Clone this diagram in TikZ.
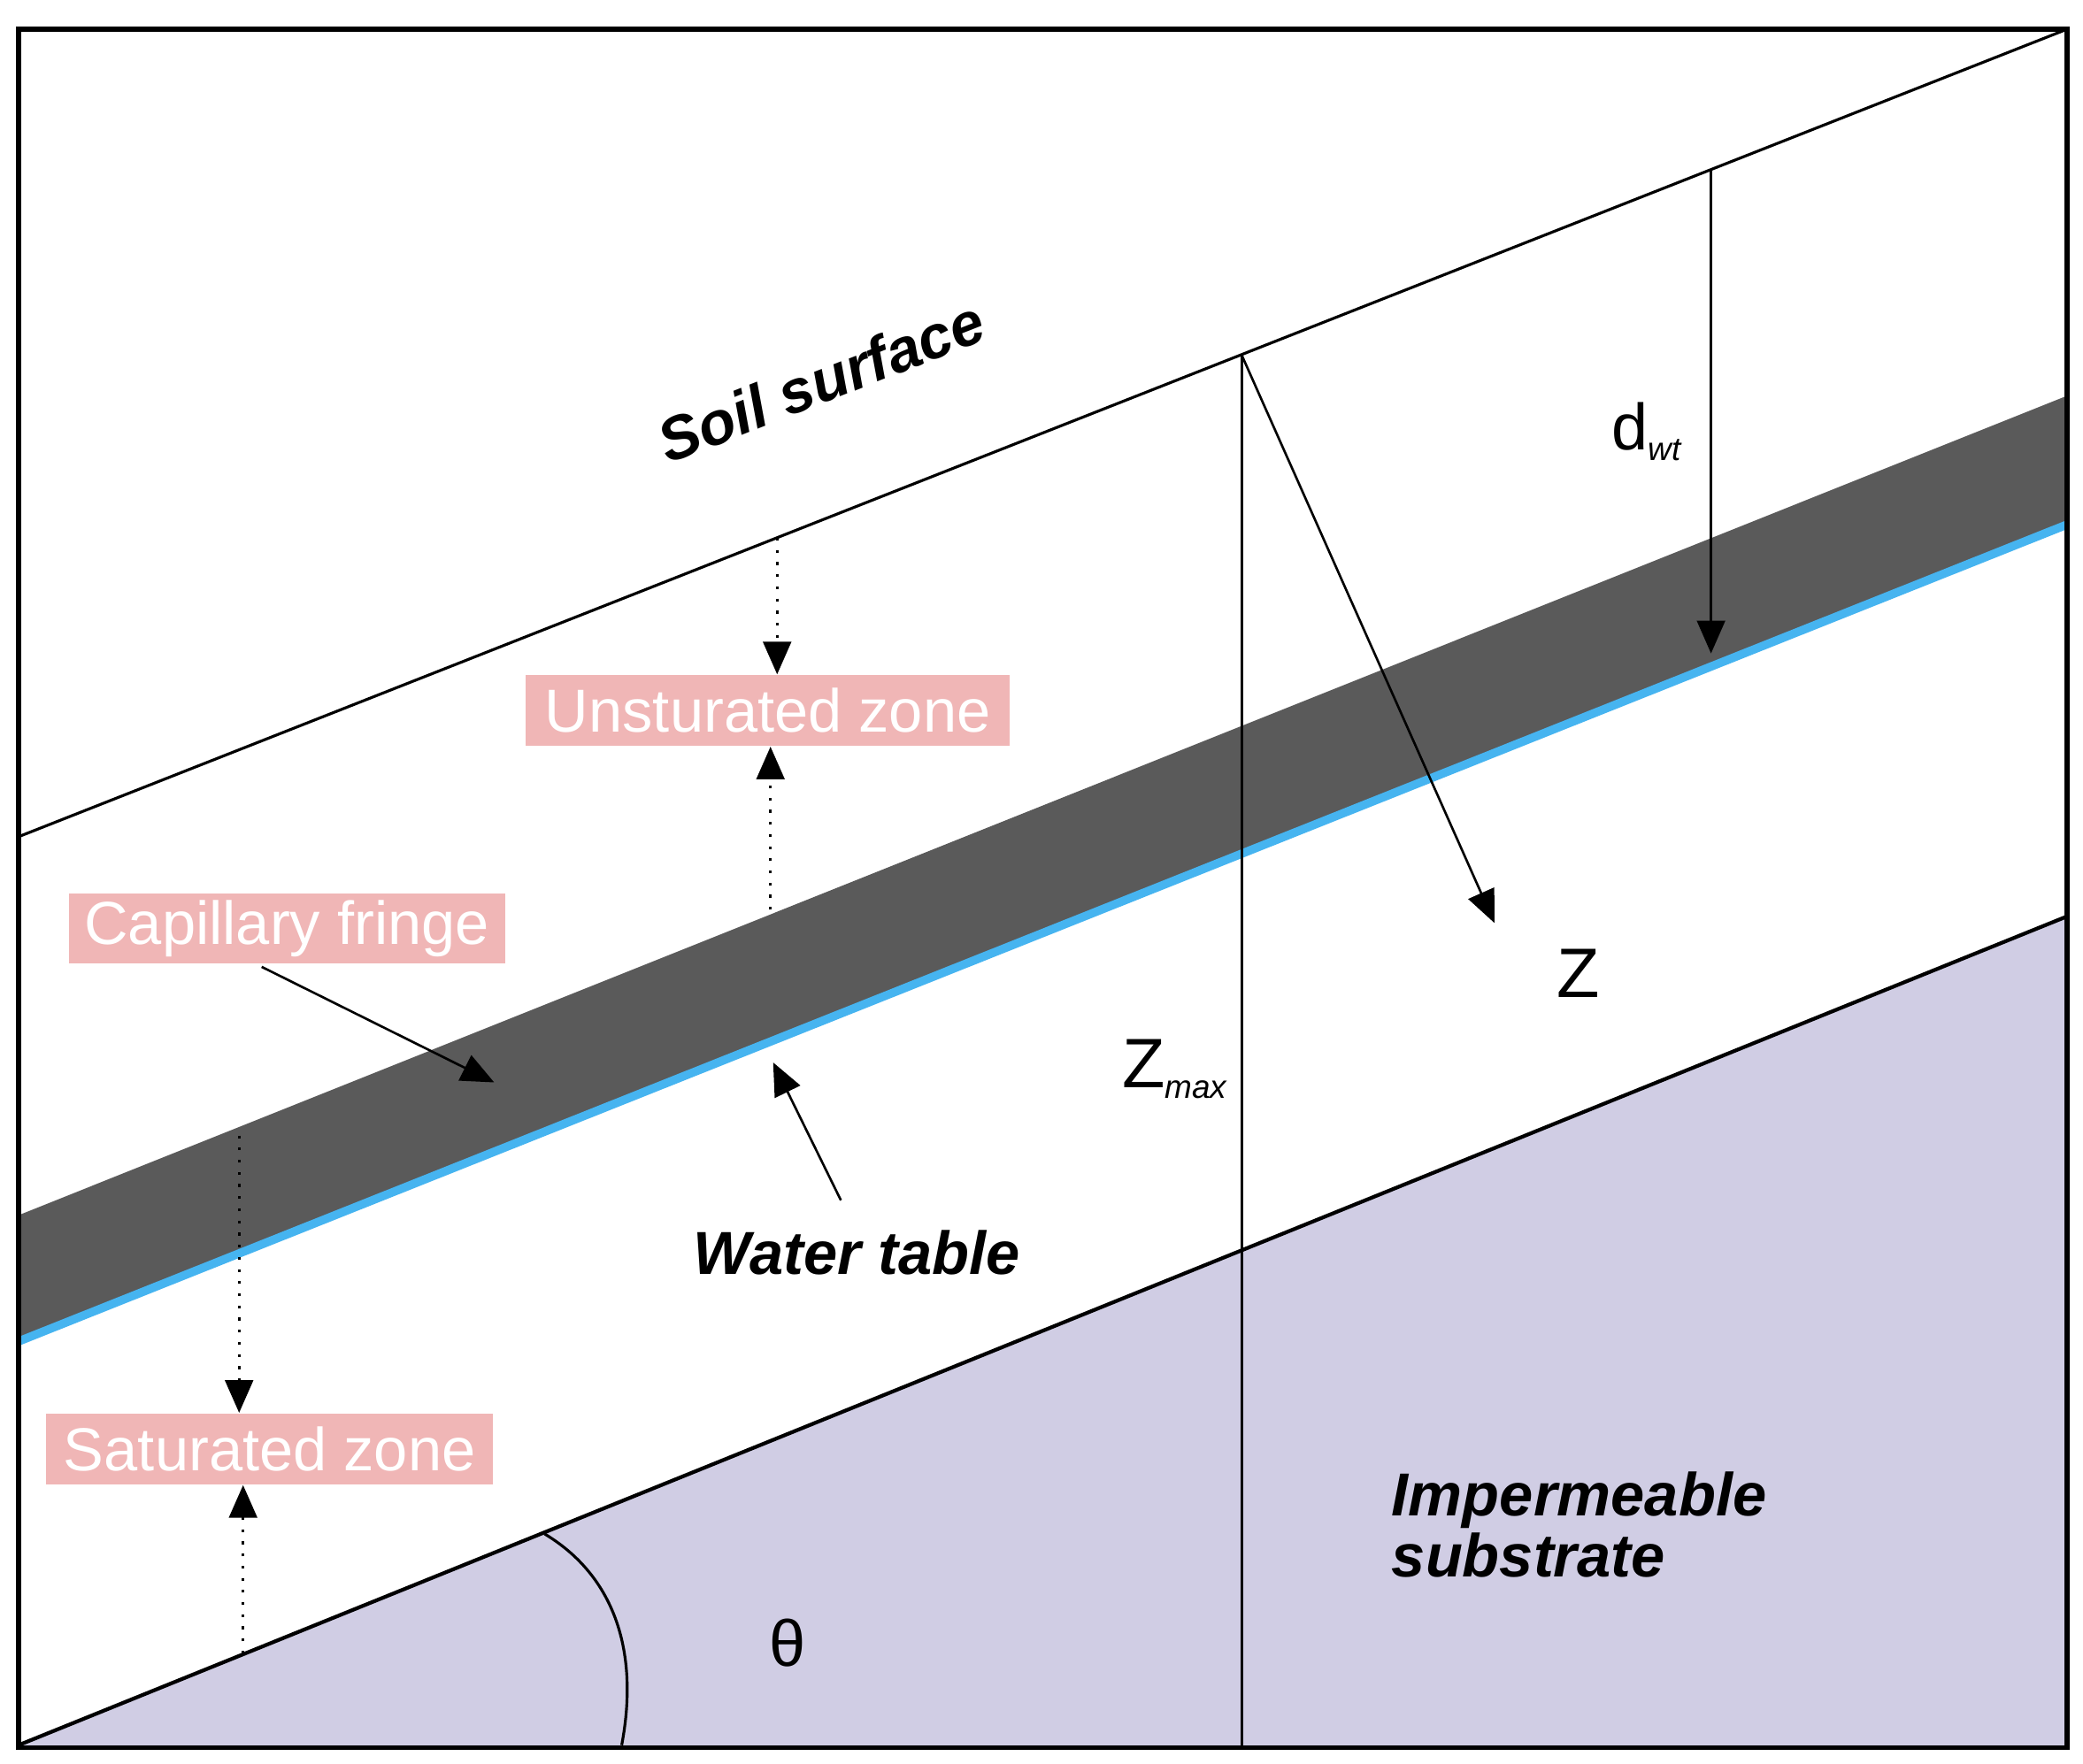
\documentclass[tikz,border=0pt]{standalone}
\usepackage{fontspec}
\setmainfont{Liberation Sans}
\usetikzlibrary{arrows.meta}
\definecolor{band}{RGB}{90,90,90}
\definecolor{wtblue}{RGB}{70,180,240}
\definecolor{lav}{RGB}{208,205,228}
\definecolor{pinkbox}{RGB}{240,182,182}
\tikzset{
  zonebox/.style={fill=pinkbox,text=white,font=\fontsize{13}{15}\selectfont,inner sep=0pt,minimum height=0.53cm},
  lab/.style={font=\fontsize{13}{15}\selectfont\bfseries\itshape},
  arr/.style={-{Triangle[length=7pt,width=6pt]},line width=0.5pt},
  darr/.style={-{Triangle[length=7pt,width=6pt]},line width=0.6pt,dotted}
}
\begin{document}
\begin{tikzpicture}[x=0.01cm,y=-0.01cm]
\useasboundingbox (0,0) rectangle (1568,1328);
\fill[white] (0,0) rectangle (1568,1328);
% substrate
\fill[lav] (14,1314) -- (1556,690) -- (1556,1316) -- (14,1316) -- cycle;
% band
\fill[band] (14,915) -- (1556,298) -- (1556,395) -- (14,1010) -- cycle;
\draw[wtblue,line width=1.8pt] (14,1010) -- (1556,395);
% lines
\draw[line width=0.6pt] (14,630) -- (1556,22);
\draw[line width=0.8pt] (14,1314) -- (1556,690);
\coordinate (top) at (935,268);
\coordinate (bot) at (935,1316);
\draw[line width=0.6pt] (top) -- (bot);
\coordinate (zend) at (1125,695);
\draw[arr] (top) -- (zend);
\coordinate (dtop) at (1288,128);
\coordinate (dbot) at (1288,492);
\draw[arr] (dtop) -- (dbot);
% arc
\coordinate (a1) at (468,1314);
\coordinate (a2) at (410,1155);
\draw[line width=0.6pt] (a1) .. controls (482,1240) and (460,1185) .. (a2);
% frame
\draw[line width=1pt] (14,22) rectangle (1556,1316);
% labels
\node[lab,rotate=21.5] (soil) at (618,287) {Soil surface};
\node[zonebox,minimum width=3.64cm] (unsat) at (578,535) {Unsturated zone};
\node[zonebox,minimum width=3.28cm] (cap) at (216,699) {Capillary fringe};
\node[zonebox,minimum width=3.36cm] (sat) at (203,1091) {Saturated zone};
\node[lab] (wt) at (645,943) {Water table};
\node[font=\fontsize{15}{17}\selectfont] (zmax) at (885,805) {Z\textsubscript{\itshape\scriptsize max}};
\node[font=\fontsize{15}{17}\selectfont] (z) at (1188,733) {Z};
\node[font=\fontsize{14}{16}\selectfont] (dwt) at (1240,325) {d\textsubscript{\itshape\scriptsize wt}};
\node[font=\fontsize{14}{16}\selectfont] (theta) at (593,1237) {θ};
\node[lab,align=left,anchor=west,inner sep=0pt] (imp) at (1047,1148) {Impermeable\\[-2pt]substrate};
% arrows
\coordinate (u1) at (585,405);
\coordinate (u2) at (580,685);
\draw[darr] (u1) -- (unsat.north -| u1);
\draw[darr] (u2) -- (unsat.south -| u2);
\coordinate (s1) at (180,855);
\coordinate (s2) at (183,1245);
\draw[darr] (s1) -- (sat.north -| s1);
\draw[darr] (s2) -- (sat.south -| s2);
\coordinate (capend) at (372,815);
\draw[arr] (197,728) -- (capend);
\coordinate (wtend) at (582,800);
\draw[arr] (wt.north) ++(-12,-10) -- (wtend);
\end{tikzpicture}
\end{document}
